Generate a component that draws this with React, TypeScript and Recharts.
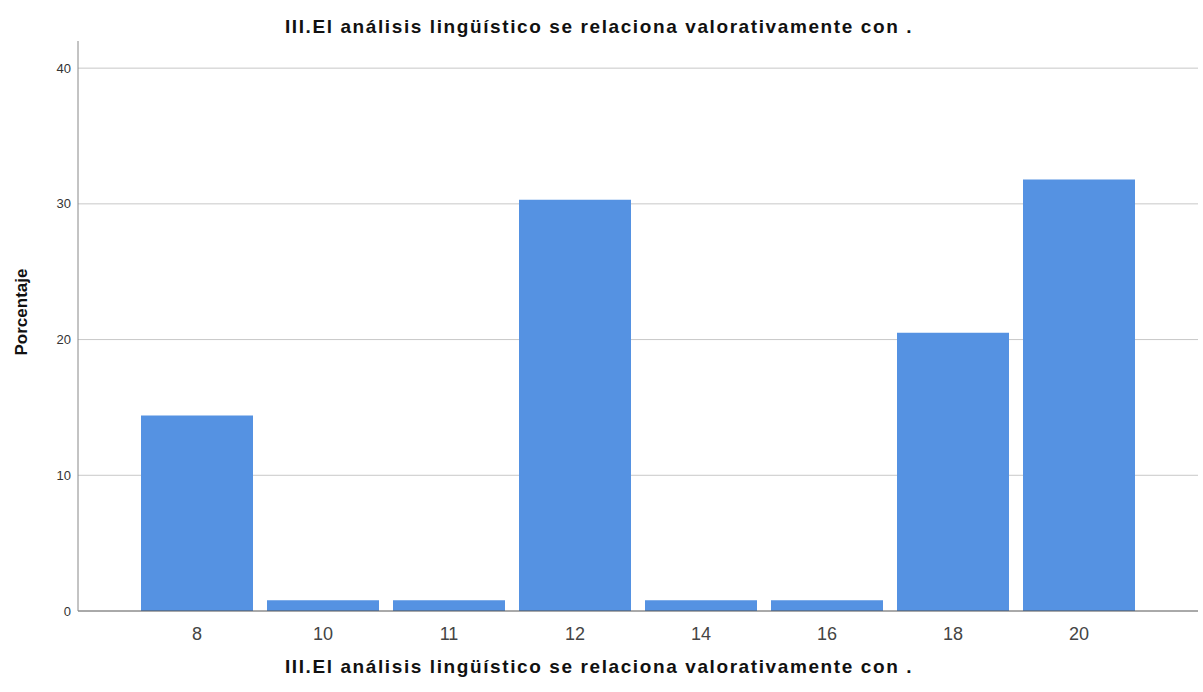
import { BarChart, Bar, XAxis, YAxis, CartesianGrid } from "recharts";

// ===== DATA =====
const categories = ["8", "10", "11", "12", "14", "16", "18", "20"];
const porcentaje = [14.4, 0.8, 0.8, 30.3, 0.8, 0.8, 20.5, 31.8];
const yTicks = [0, 10, 20, 30, 40];
const gridValues = [10, 20, 30, 40];

const TITLE = "III.El análisis lingüístico se relaciona valorativamente con .";
const FONT = "'Liberation Sans', Arial, sans-serif";

const chartData = categories.map((c, i) => ({ name: c, value: porcentaje[i] }));

const titleStyle = {
  position: "absolute" as const,
  left: 0,
  width: 1198,
  textAlign: "center" as const,
  fontWeight: "bold" as const,
  fontSize: 19,
  letterSpacing: 1.6,
  color: "#111",
};

export default function App() {
  return (
    <div
      style={{
        position: "absolute",
        left: 0,
        top: 0,
        width: 1203,
        height: 692,
        background: "#fff",
        fontFamily: FONT,
      }}
    >
      {/* title */}
      <div style={{ ...titleStyle, top: 16 }}>{TITLE}</div>

      <BarChart
        width={1203}
        height={692}
        data={chartData}
        margin={{ top: 41, right: 5, left: 0, bottom: 41 }}
      >
        <CartesianGrid
          vertical={false}
          horizontalValues={gridValues}
          stroke="#c8c8c8"
        />
        <XAxis
          dataKey="name"
          height={40}
          padding={{ left: 56, right: 56 }}
          tickLine={false}
          tickSize={0}
          tickMargin={16}
          stroke="#555"
          tick={{ fill: "#444", fontSize: 18, fontFamily: FONT }}
        />
        <YAxis
          width={78}
          domain={[0, 42]}
          ticks={yTicks}
          tickLine={false}
          tickSize={0}
          tickMargin={7}
          stroke="#888"
          tick={{ fill: "#333", fontSize: 13, fontFamily: FONT }}
        />
        <Bar
          dataKey="value"
          fill="#5592e2"
          barSize={112}
          isAnimationActive={false}
        />
      </BarChart>

      {/* y-axis title */}
      <div
        style={{
          position: "absolute",
          left: 22,
          top: 312,
          transform: "translate(-50%, -50%) rotate(-90deg)",
          fontWeight: "bold",
          fontSize: 17,
          color: "#111",
          whiteSpace: "nowrap",
        }}
      >
        Porcentaje
      </div>

      {/* x-axis title */}
      <div style={{ ...titleStyle, top: 656 }}>{TITLE}</div>
    </div>
  );
}
